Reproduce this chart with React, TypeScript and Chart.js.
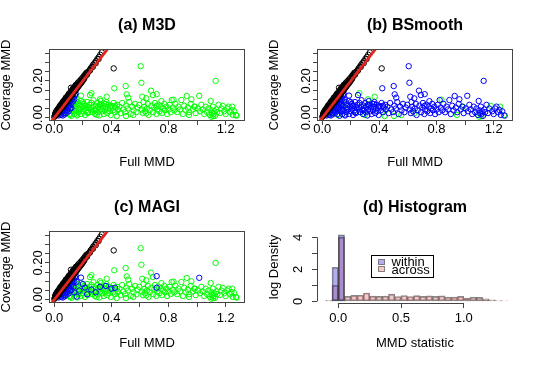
import React, { useEffect, useRef } from 'react';
import { Chart, registerables } from 'chart.js';
Chart.register(...registerables);

// ---------------- data ----------------
const TITLES = ['(a) M3D', '(b) BSmooth', '(c) MAGI', '(d) Histogram'];

// black: coverage ≈ full (on the diagonal)
const BLACK_PTS: number[][] = [
  [0.0,0.004],[0.004,0.01],[0.008,0.012],[0.01,0.018],[0.014,0.02],[0.016,0.026],[0.02,0.024],[0.022,0.032],[0.025,0.03],[0.027,0.038],
  [0.03,0.036],[0.032,0.044],[0.035,0.04],[0.037,0.05],[0.04,0.046],[0.042,0.056],[0.045,0.052],[0.047,0.062],[0.05,0.057],[0.052,0.067],
  [0.055,0.062],[0.057,0.072],[0.06,0.067],[0.062,0.078],[0.065,0.072],[0.067,0.083],[0.07,0.077],[0.072,0.088],[0.075,0.082],[0.077,0.093],
  [0.08,0.087],[0.082,0.098],[0.085,0.092],[0.087,0.104],[0.09,0.097],[0.092,0.109],[0.095,0.102],[0.097,0.114],[0.1,0.107],[0.102,0.119],
  [0.105,0.112],[0.107,0.124],[0.11,0.117],[0.112,0.13],[0.115,0.122],[0.117,0.135],[0.12,0.128],[0.123,0.14],[0.126,0.134],[0.129,0.146],
  [0.132,0.14],[0.135,0.152],[0.138,0.146],[0.141,0.158],[0.144,0.152],[0.147,0.164],[0.15,0.158],[0.154,0.17],[0.158,0.165],[0.162,0.177],
  [0.166,0.172],[0.17,0.184],[0.175,0.18],[0.18,0.192],[0.185,0.189],[0.19,0.2],[0.196,0.198],[0.202,0.21],[0.208,0.216],[0.214,0.224],
  [0.22,0.23],[0.226,0.238],[0.232,0.245],[0.24,0.252],[0.248,0.26],[0.256,0.27],[0.264,0.278],[0.272,0.288],[0.282,0.298],[0.292,0.308],
  [0.302,0.32],[0.312,0.33],[0.322,0.342],[0.333,0.355],[0.02,0.042],[0.04,0.066],[0.06,0.086],[0.08,0.108],[0.1,0.128],[0.117,0.163],
  [0.13,0.158],[0.15,0.178],[0.416,0.268],[0.03,0.028],[0.06,0.059],[0.09,0.088],[0.12,0.118],[0.15,0.149],
  [0.01,0.03],[0.015,0.035],[0.025,0.048],[0.035,0.058],[0.045,0.07],[0.055,0.08],[0.065,0.092],[0.075,0.1],[0.085,0.112],[0.095,0.12],
  [0.105,0.132],[0.115,0.142],[0.125,0.15],[0.135,0.162],[0.145,0.172],[0.155,0.18],[0.165,0.19],[0.175,0.198],[0.185,0.206],[0.195,0.215],
  [0.205,0.225],[0.215,0.235],[0.225,0.245],[0.005,0.02],[0.018,0.015],[0.028,0.025],[0.038,0.036],[0.048,0.047],[0.058,0.056],[0.068,0.066],
  [0.078,0.076],[0.088,0.086],[0.098,0.097],[0.108,0.106],[0.118,0.116],[0.128,0.127],[0.138,0.137],[0.148,0.147],[0.16,0.16],[0.17,0.17],
  [0.18,0.181],[0.19,0.19],[0.2,0.202],[0.21,0.212],[0.23,0.234],[0.25,0.256],[0.27,0.276],[0.29,0.296],[0.31,0.318],
];

// blue in every panel: just under the diagonal
const NEAR_PTS: number[][] = [
  [0.03,0.012],[0.04,0.022],[0.048,0.015],[0.055,0.032],[0.06,0.042],[0.066,0.025],[0.07,0.052],[0.075,0.036],[0.08,0.062],[0.085,0.046],
  [0.09,0.072],[0.095,0.056],[0.1,0.082],[0.105,0.066],[0.11,0.088],[0.115,0.072],[0.12,0.095],[0.125,0.104],[0.13,0.088],[0.135,0.112],
  [0.14,0.1],[0.145,0.122],[0.08,0.024],[0.1,0.034],[0.06,0.012],[0.12,0.052],[0.15,0.13],[0.07,0.018],[0.09,0.04],[0.11,0.05],
];

// green in (a) and (c), blue in (b)
const CLOUD_PTS: number[][] = [
  [0.105,0.02],[0.11,0.045],[0.115,0.06],[0.12,0.01],[0.125,0.035],[0.13,0.075],[0.135,0.05],[0.14,0.02],[0.145,0.065],[0.15,0.04],
  [0.155,0.085],[0.16,0.012],[0.165,0.055],[0.17,0.03],[0.175,0.07],[0.18,0.045],[0.185,0.09],[0.19,0.02],[0.195,0.06],[0.2,0.035],
  [0.205,0.075],[0.21,0.05],[0.215,0.015],[0.22,0.065],[0.225,0.04],[0.23,0.085],[0.235,0.025],[0.24,0.055],[0.245,0.07],[0.25,0.123],
  [0.255,0.045],[0.26,0.08],[0.265,0.03],[0.27,0.06],[0.275,0.095],[0.28,0.04],[0.285,0.02],[0.29,0.065],[0.295,0.05],[0.3,0.08],
  [0.305,0.03],[0.31,0.06],[0.315,0.012],[0.32,0.045],[0.325,0.09],[0.33,0.07],[0.335,0.035],[0.34,0.055],[0.345,0.02],[0.35,0.075],
  [0.355,0.04],[0.36,0.06],[0.365,0.085],[0.37,0.025],[0.375,0.05],[0.38,0.07],[0.385,0.035],[0.39,0.055],[0.395,0.015],[0.4,0.065],
  [0.41,0.04],[0.415,0.08],[0.42,0.16],[0.425,0.03],[0.43,0.055],[0.44,0.07],[0.445,0.045],
  [0.455,0.06],[0.465,0.025],[0.475,0.08],[0.485,0.045],[0.495,0.03],[0.5,0.172],[0.505,0.065],[0.507,0.127],[0.515,0.05],
  [0.518,0.109],[0.525,0.085],[0.535,0.02],[0.545,0.06],[0.555,0.04],[0.565,0.075],[0.575,0.03],[0.585,0.055],[0.595,0.07],
  [0.605,0.28],[0.61,0.19],[0.612,0.045],[0.616,0.114],[0.62,0.025],[0.625,0.085],[0.63,0.06],[0.635,0.035],[0.644,0.105],[0.648,0.05],
  [0.655,0.075],[0.66,0.015],[0.668,0.04],[0.677,0.147],[0.68,0.065],[0.69,0.123],[0.692,0.03],[0.7,0.055],[0.705,0.08],[0.715,0.02],
  [0.72,0.045],[0.73,0.07],[0.735,0.035],[0.745,0.06],[0.75,0.09],[0.755,0.025],[0.762,0.05],[0.77,0.075],[0.775,0.04],[0.785,0.06],
  [0.79,0.02],[0.8,0.045],[0.808,0.07],[0.815,0.03],[0.822,0.096],[0.83,0.055],[0.84,0.04],[0.848,0.075],
  [0.86,0.03],[0.87,0.06],[0.88,0.045],[0.89,0.096],[0.9,0.02],[0.91,0.065],[0.92,0.04],[0.927,0.118],[0.935,0.055],[0.945,0.03],
  [0.955,0.075],[0.96,0.1],[0.97,0.045],[0.98,0.06],[0.99,0.025],
  [1.005,0.05],[1.02,0.035],[1.03,0.07],[1.04,0.045],[1.05,0.02],[1.06,0.06],[1.07,0.03],[1.08,0.05],[1.09,0.015],[1.095,0.091],
  [1.1,0.04],[1.105,0.025],[1.11,0.06],[1.115,0.02],[1.12,0.035],[1.125,0.01],[1.13,0.2],[1.135,0.045],[1.14,0.03],[1.15,0.07],
  [1.16,0.025],[1.17,0.05],[1.19,0.035],[1.2,0.02],[1.21,0.05],[1.22,0.06],[1.23,0.03],[1.24,0.042],[1.25,0.015],[1.26,0.035],[1.277,0.011],
];

// green in every panel
const KEEP_GREEN_PTS: number[][] = [
  [0.087,0.024],[0.11,0.015],[0.157,0.075],[0.168,0.033],[0.238,0.033],[0.26,0.133],[0.297,0.015],[0.308,0.06],[0.32,0.1],[0.367,0.114],
  [0.437,0.009],[0.446,0.042],[0.502,0.009],[0.553,0.015],[0.644,0.024],[0.835,0.098],[0.943,0.015],[0.985,0.06],[1.1,0.005],[1.113,0.009],
  [1.18,0.064],[1.246,0.06],[1.272,0.015],
];

// green in (a), blue in (b) and (c)
const C_BLUE_PTS: number[][] = [
  [0.157,0.097],[0.187,0.12],[0.215,0.066],[0.157,0.017],[0.362,0.075],[0.4,0.06],[0.425,0.065],[0.717,0.128],[0.717,0.065],[1.015,0.119],
  [0.175,0.05],[0.2,0.085],[0.23,0.03],[0.26,0.055],[0.29,0.04],[0.32,0.07],[0.135,0.07],[0.14,0.04],
];

// y = x reference line
const REF_LINE_X = [-0.05, 0.4];
const REF_LINE_Y = [-0.05, 0.4];

const SCATTER_X_TICKS = [0, 0.2, 0.4, 0.6, 0.8, 1.0, 1.2];
const SCATTER_X_LABELS = ['0.0', '', '0.4', '', '0.8', '', '1.2'];
const SCATTER_Y_TICKS = [0, 0.05, 0.1, 0.15, 0.2, 0.25, 0.3, 0.35];
const SCATTER_Y_LABELS = ['0.00', '', '', '', '0.20', '', '', ''];

// histogram (bin mid-points, bin width 0.05)
const HIST_MIDS = [-0.075, -0.025, 0.025, 0.075, 0.125, 0.175, 0.225, 0.275, 0.325, 0.375, 0.425, 0.475, 0.525, 0.575,
  0.625, 0.675, 0.725, 0.775, 0.825, 0.875, 0.925, 0.975, 1.025, 1.075, 1.125, 1.175, 1.225, 1.275, 1.325];
const WITHIN = [0.03, 2.13, 4.15, 0, 0, 0, 0, 0, 0, 0, 0, 0, 0, 0, 0, 0, 0, 0, 0, 0, 0, 0, 0, 0, 0, 0, 0, 0, 0];
const ACROSS = [0.05, 1.0, 4.0, 0.31, 0.37, 0.38, 0.52, 0.32, 0.31, 0.32, 0.45, 0.3, 0.36, 0.3,
  0.35, 0.31, 0.34, 0.31, 0.34, 0.26, 0.26, 0.31, 0.2, 0.26, 0.25, 0.16, 0.09, 0.05, 0.02];
const HIST_X_TICKS = [0, 0.5, 1.0];
const HIST_X_LABELS = ['0.0', '0.5', '1.0'];
const HIST_Y_TICKS = [0, 1, 2, 3, 4];
const HIST_Y_LABELS = ['0', '', '2', '', '4'];
const LEGEND_LABELS = ['within', 'across'];

// ---------------- styles / layout ----------------
const FONT = "'Liberation Sans', Arial, Helvetica, sans-serif";
const GREEN = '#00FF00';
const BLUE = '#0000FF';
const BLACK = '#000000';
const RED = '#E3261F';
const FRAME = '#444444';
const WITHIN_FILL = 'rgba(60,50,215,0.4)';
const ACROSS_FILL = 'rgba(225,72,72,0.3)';
const BAR_EDGE = 'rgba(40,40,40,0.55)';

const CW = 269;
const CH = 183;
const AREA_LEFT = 49;
const AREA_RIGHT = 245;
const AREA_TOP = 49;
const AREA_BOTTOM = 121;
const TITLE_Y = 25.5;
const LEGEND_AT = [0.258, 2.9];

// panel -> colour of each shared group
const GROUP_COLORS = [
  { cloud: GREEN, keep: GREEN, cblue: GREEN },
  { cloud: BLUE, keep: GREEN, cblue: BLUE },
  { cloud: GREEN, keep: GREEN, cblue: BLUE },
];

const toXY = (pts: number[][]) => pts.map((p) => ({ x: p[0], y: p[1] }));
const zipXY = (xs: number[], ys: number[]) => xs.map((x, i) => ({ x, y: ys[i] }));

const titlePlugin = (text: string) => ({
  id: 'panelTitle',
  afterDraw(chart: any) {
    const { ctx, chartArea } = chart;
    ctx.save();
    ctx.font = `bold 16px ${FONT}`;
    ctx.fillStyle = '#000';
    ctx.textAlign = 'center';
    ctx.textBaseline = 'middle';
    ctx.fillText(text, (chartArea.left + chartArea.right) / 2, TITLE_Y);
    ctx.restore();
  },
});

const boxPlugin = {
  id: 'frameBox',
  afterDatasetsDraw(chart: any) {
    const { ctx, chartArea } = chart;
    ctx.save();
    ctx.strokeStyle = FRAME;
    ctx.lineWidth = 1;
    const l = Math.round(chartArea.left) + 0.5;
    const t = Math.round(chartArea.top) + 0.5;
    const r = Math.round(chartArea.right) - 0.5;
    const b = Math.round(chartArea.bottom) - 0.5;
    ctx.strokeRect(l, t, r - l, b - t);
    ctx.restore();
  },
};

const tickFont = { family: FONT, size: 13 };

function scatterConfig(idx: number): any {
  const row = idx >= 2 ? 1 : 0;
  const c = GROUP_COLORS[idx];
  const groups: [number[][], string][] = [
    [CLOUD_PTS, c.cloud],
    [KEEP_GREEN_PTS, c.keep],
    [C_BLUE_PTS, c.cblue],
  ];
  const green: any[] = [];
  const blue: any[] = toXY(NEAR_PTS);
  groups.forEach(([pts, col]) => {
    (col === GREEN ? green : blue).push(...toXY(pts));
  });
  const pointDs = (data: any[], color: string, order: number) => ({
    type: 'scatter',
    data,
    borderColor: color,
    backgroundColor: 'rgba(0,0,0,0)',
    pointRadius: 2.7,
    pointHoverRadius: 2.7,
    pointBorderWidth: 1,
    order,
    clip: 0,
  });
  return {
    type: 'scatter',
    data: {
      datasets: [
        {
          type: 'line',
          data: zipXY(REF_LINE_X, REF_LINE_Y),
          borderColor: RED,
          borderWidth: 2.8,
          pointRadius: 0,
          fill: false,
          order: 0,
          clip: 0,
        },
        pointDs(toXY(BLACK_PTS), BLACK, 1),
        pointDs(blue, BLUE, 2),
        pointDs(green, GREEN, 3),
      ],
    },
    options: {
      animation: false,
      responsive: false,
      events: [],
      layout: { padding: { left: 0, top: AREA_TOP, right: CW - AREA_RIGHT, bottom: 0 } },
      plugins: { legend: { display: false }, tooltip: { enabled: false }, title: { display: false } },
      scales: {
        x: {
          type: 'linear',
          min: -0.0371,
          max: 1.3354,
          afterBuildTicks: (s: any) => { s.ticks = SCATTER_X_TICKS.map((v) => ({ value: v })); },
          afterFit: (s: any) => { s.height = CH - AREA_BOTTOM; },
          ticks: {
            autoSkip: false, minRotation: 0, maxRotation: 0,
            padding: row ? 3.2 : -3.8,
            color: '#000', font: tickFont,
            callback: (_v: any, i: number) => SCATTER_X_LABELS[i],
          },
          grid: { drawOnChartArea: false, drawTicks: true, tickLength: 4, color: FRAME, tickColor: FRAME },
          border: { display: false },
          title: { display: true, text: 'Full MMD', color: '#000', font: tickFont, padding: { top: 0, bottom: row ? 13.5 : 12.5 } },
        },
        y: {
          type: 'linear',
          min: -0.0179,
          max: 0.3734,
          afterBuildTicks: (s: any) => { s.ticks = SCATTER_Y_TICKS.map((v) => ({ value: v })); },
          afterFit: (s: any) => { s.width = AREA_LEFT; },
          ticks: {
            autoSkip: false, minRotation: 90, maxRotation: 90, crossAlign: 'center',
            padding: -6.15,
            color: '#000', font: tickFont,
            callback: (_v: any, i: number) => SCATTER_Y_LABELS[i],
          },
          grid: { drawOnChartArea: false, drawTicks: true, tickLength: 4, color: FRAME, tickColor: FRAME },
          border: { display: false },
          title: { display: true, text: 'Coverage MMD', color: '#000', font: tickFont, padding: { top: -1, bottom: 0 } },
        },
      },
    },
    plugins: [boxPlugin, titlePlugin(TITLES[idx])],
  };
}

const histAxesPlugin = {
  id: 'histAxes',
  afterDraw(chart: any) {
    const { ctx, chartArea, scales } = chart;
    const xs = scales.x;
    const ys = scales.y;
    ctx.save();
    ctx.strokeStyle = FRAME;
    ctx.lineWidth = 1;
    const ax = Math.round(chartArea.left) + 0.5;
    const ay = Math.round(chartArea.bottom) + 0.5;
    ctx.beginPath();
    ctx.moveTo(ax, ys.getPixelForValue(HIST_Y_TICKS[0]));
    ctx.lineTo(ax, ys.getPixelForValue(HIST_Y_TICKS[HIST_Y_TICKS.length - 1]));
    ctx.moveTo(xs.getPixelForValue(HIST_X_TICKS[0]), ay);
    ctx.lineTo(xs.getPixelForValue(HIST_X_TICKS[HIST_X_TICKS.length - 1]), ay);
    ctx.stroke();

    // legend
    const lx = Math.round(xs.getPixelForValue(LEGEND_AT[0])) + 0.5;
    const ly = Math.round(ys.getPixelForValue(LEGEND_AT[1])) + 0.5;
    const bw = 62;
    const bh = 22;
    ctx.fillStyle = '#fff';
    ctx.fillRect(lx, ly, bw, bh);
    ctx.strokeStyle = '#000';
    ctx.strokeRect(lx, ly, bw, bh);
    const fills = [WITHIN_FILL, ACROSS_FILL];
    ctx.font = `13px ${FONT}`;
    ctx.textAlign = 'left';
    ctx.textBaseline = 'middle';
    LEGEND_LABELS.forEach((lab, i) => {
      const sy = ly + 4 + i * 7;
      ctx.fillStyle = fills[i];
      ctx.fillRect(lx + 7, sy, 6, 5);
      ctx.strokeStyle = BAR_EDGE;
      ctx.strokeRect(lx + 7, sy, 6, 5);
      ctx.fillStyle = '#000';
      ctx.fillText(lab, lx + 20, ly + 6.5 + i * 8);
    });
    ctx.restore();
  },
};

function histConfig(): any {
  const barDs = (label: string, vals: number[], fill: string, order: number) => ({
    label,
    data: zipXY(HIST_MIDS, vals),
    backgroundColor: fill,
    borderColor: BAR_EDGE,
    borderWidth: 1,
    borderSkipped: false,
    grouped: false,
    barPercentage: 1,
    categoryPercentage: 1,
    order,
  });
  return {
    type: 'bar',
    data: {
      datasets: [
        barDs('within', WITHIN, WITHIN_FILL, 0),
        barDs('across', ACROSS, ACROSS_FILL, 1),
      ],
    },
    options: {
      animation: false,
      responsive: false,
      events: [],
      layout: { padding: { left: 0, top: AREA_TOP, right: CW - AREA_RIGHT, bottom: 0 } },
      plugins: { legend: { display: false }, tooltip: { enabled: false }, title: { display: false } },
      scales: {
        x: {
          type: 'linear',
          offset: false,
          min: -0.1697,
          max: 1.392,
          afterBuildTicks: (s: any) => { s.ticks = HIST_X_TICKS.map((v) => ({ value: v })); },
          afterFit: (s: any) => { s.height = CH - AREA_BOTTOM; },
          ticks: {
            autoSkip: false, minRotation: 0, maxRotation: 0, padding: 2.2,
            color: '#000', font: tickFont,
            callback: (_v: any, i: number) => HIST_X_LABELS[i],
          },
          grid: { offset: false, drawOnChartArea: false, drawTicks: true, tickLength: 5, color: FRAME, tickColor: FRAME },
          border: { display: false },
          title: { display: true, text: 'MMD statistic', color: '#000', font: tickFont, padding: { top: 0, bottom: 13.5 } },
        },
        y: {
          type: 'linear',
          min: -0.106,
          max: 4.394,
          afterBuildTicks: (s: any) => { s.ticks = HIST_Y_TICKS.map((v) => ({ value: v })); },
          afterFit: (s: any) => { s.width = AREA_LEFT; },
          ticks: {
            autoSkip: false, minRotation: 90, maxRotation: 90, crossAlign: 'center', padding: 10.4,
            color: '#000', font: tickFont,
            callback: (_v: any, i: number) => HIST_Y_LABELS[i],
          },
          grid: { drawOnChartArea: false, drawTicks: true, tickLength: 5, color: FRAME, tickColor: FRAME },
          border: { display: false },
          title: { display: true, text: 'log Density', color: '#000', font: tickFont, padding: { top: -1, bottom: 0 } },
        },
      },
    },
    plugins: [histAxesPlugin, titlePlugin(TITLES[3])],
  };
}

function Panel({ idx, left, top }: { idx: number; left: number; top: number }) {
  const ref = useRef<HTMLCanvasElement | null>(null);
  useEffect(() => {
    if (!ref.current) return;
    const cfg = idx === 3 ? histConfig() : scatterConfig(idx);
    const chart = new Chart(ref.current, cfg);
    return () => chart.destroy();
  }, [idx]);
  return (
    <canvas
      ref={ref}
      width={CW}
      height={CH}
      style={{ position: 'absolute', left, top, width: CW, height: CH }}
    />
  );
}

export default function App() {
  return (
    <div style={{ position: 'absolute', left: 0, top: 0, width: 538, height: 365, background: '#fff', overflow: 'hidden' }}>
      <Panel idx={0} left={0} top={0} />
      <Panel idx={1} left={268} top={0} />
      <Panel idx={2} left={0} top={182} />
      <Panel idx={3} left={268} top={182} />
    </div>
  );
}
